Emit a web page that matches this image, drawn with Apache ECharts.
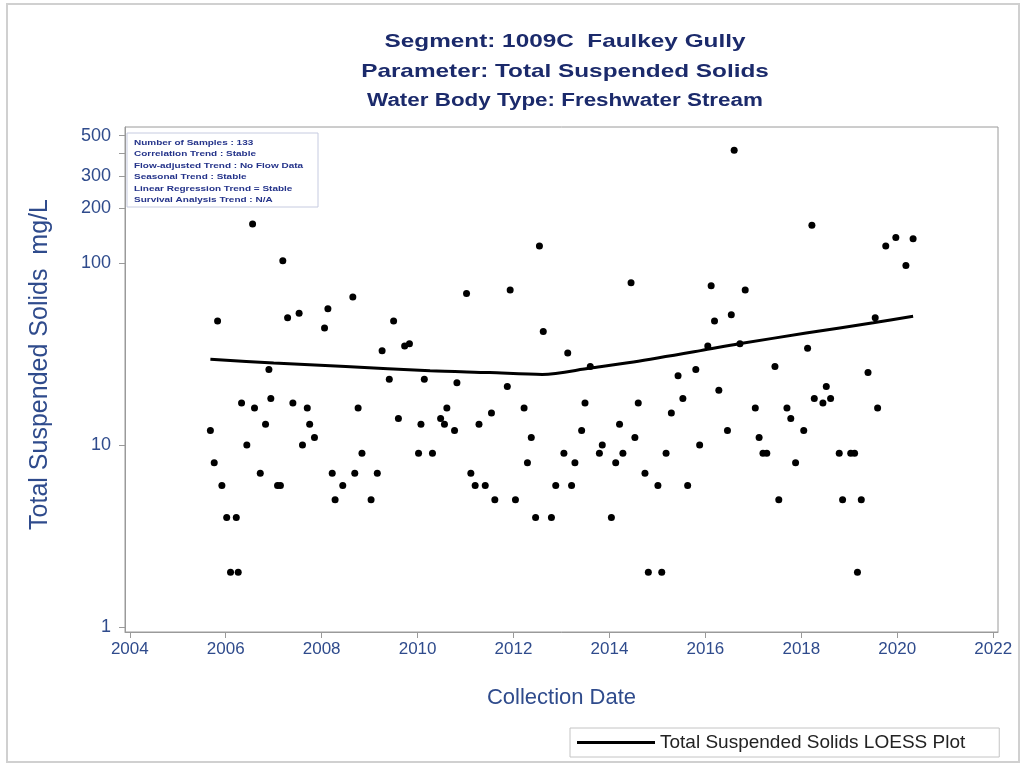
<!DOCTYPE html>
<html>
<head>
<meta charset="utf-8">
<script src="https://cdn.jsdelivr.net/npm/echarts@6/dist/echarts.min.js"></script>
<style>
  html, body { margin: 0; padding: 0; background: #fff; }
  #chart { width: 1026px; height: 767px; }
</style>
</head>
<body>
<div id="chart"></div>
<script>
// sample dates (decimal year) and TSS values, mg/L
var sampleDates = [
  2005.68, 2005.76, 2005.83, 2005.92, 2006.02, 2006.10, 2006.22, 2006.26, 2006.33, 2006.44,
  2006.56, 2006.60, 2006.72, 2006.83, 2006.90, 2006.94, 2007.08, 2007.14, 2007.19, 2007.29,
  2007.40, 2007.53, 2007.60, 2007.70, 2007.75, 2007.85, 2008.06, 2008.13, 2008.22, 2008.28,
  2008.44, 2008.65, 2008.69, 2008.76, 2008.84, 2009.03, 2009.16, 2009.26, 2009.41, 2009.50,
  2009.60, 2009.73, 2009.83, 2010.02, 2010.07, 2010.14, 2010.31, 2010.48, 2010.56, 2010.61,
  2010.77, 2010.82, 2011.02, 2011.11, 2011.20, 2011.28, 2011.41, 2011.54, 2011.61, 2011.87,
  2011.93, 2012.04, 2012.22, 2012.29, 2012.37, 2012.46, 2012.54, 2012.62, 2012.79, 2012.88,
  2013.05, 2013.13, 2013.21, 2013.28, 2013.42, 2013.49, 2013.60, 2013.79, 2013.85, 2014.04,
  2014.13, 2014.21, 2014.28, 2014.45, 2014.53, 2014.60, 2014.74, 2014.81, 2015.01, 2015.09,
  2015.18, 2015.29, 2015.43, 2015.53, 2015.63, 2015.80, 2015.88, 2016.05, 2016.12, 2016.19,
  2016.28, 2016.46, 2016.54, 2016.60, 2016.72, 2016.83, 2017.04, 2017.12, 2017.20, 2017.28,
  2017.45, 2017.53, 2017.70, 2017.78, 2017.88, 2018.05, 2018.13, 2018.22, 2018.27, 2018.45,
  2018.52, 2018.61, 2018.79, 2018.86, 2019.03, 2019.11, 2019.17, 2019.25, 2019.39, 2019.54,
  2019.59, 2019.76, 2019.97, 2020.18, 2020.33
];
var tssValues = [
  12, 8, 48, 6, 4, 2, 4, 2, 17, 10,
  164, 16, 7, 13, 26, 18, 6, 6, 103, 50,
  17, 53, 10, 16, 13, 11, 44, 56, 7, 5,
  6, 65, 7, 16, 9, 5, 7, 33, 23, 48,
  14, 35, 36, 9, 13, 23, 9, 14, 13, 16,
  12, 22, 68, 7, 6, 13, 6, 15, 5, 21,
  71, 5, 16, 8, 11, 4, 124, 42, 4, 6,
  9, 32, 6, 8, 12, 17, 27, 9, 10, 4,
  8, 13, 9, 78, 11, 17, 7, 2, 6, 2,
  9, 15, 24, 18, 6, 26, 10, 35, 75, 48,
  20, 12, 52, 416, 36, 71, 16, 11, 9, 9,
  27, 5, 16, 14, 8, 12, 34, 161, 18, 17,
  21, 18, 9, 5, 9, 9, 2, 5, 25, 50,
  16, 124, 138, 97, 136
];
// LOESS fit
var loessDates = [2005.68, 2007.0, 2008.5, 2010.26, 2011.5, 2012.6, 2013.6, 2014.5, 2015.9, 2016.7, 2018.1, 2019.5, 2020.33];
var loessValues = [29.6, 28.2, 27.0, 25.6, 25.0, 24.4, 26.5, 28.6, 33.0, 36.0, 41.2, 47.0, 51.0];

var yearTicks = [2004, 2006, 2008, 2010, 2012, 2014, 2016, 2018, 2020, 2022];
var yTickValues = [1, 10, 100, 200, 300, 400, 500];
var yLabelValues = [1, 10, 100, 200, 300, 500];

var titles = [
  'Segment: 1009C  Faulkey Gully',
  'Parameter: Total Suspended Solids',
  'Water Body Type: Freshwater Stream'
];
var infoLines = [
  'Number of Samples : 133',
  'Correlation Trend : Stable',
  'Flow-adjusted Trend : No Flow Data',
  'Seasonal Trend : Stable',
  'Linear Regression Trend = Stable',
  'Survival Analysis Trend : N/A'
];

var lg = function (v) { return Math.log10(v); };
var scatterData = sampleDates.map(function (d, i) { return [d, lg(tssValues[i])]; });
var loessData = loessDates.map(function (d, i) { return [d, lg(loessValues[i])]; });

var blue = '#2f4b8c';
var navy = '#1b2a6b';
var font = '"Liberation Sans", Arial, sans-serif';
var stretch = 1.28;   // the source picture is wider than it is tall

function titleText(str, y, size) {
  return {
    type: 'text', x: 565, y: y, scaleX: stretch, silent: true,
    style: { text: str, fontSize: size, fontWeight: 'bold', fill: navy, fontFamily: font,
      textAlign: 'center', textVerticalAlign: 'middle' }
  };
}

var chart = echarts.init(document.getElementById('chart'));
var option = {
  backgroundColor: '#fff',
  animation: false,
  textStyle: { fontFamily: font },
  grid: { left: 125, right: 28, top: 127, bottom: 135, show: true, borderColor: '#9a9a9a', borderWidth: 1 },
  legend: {
    data: [{ name: 'Total Suspended Solids LOESS Plot', icon: 'rect' }],
    left: 570, top: 728,
    itemWidth: 78, itemHeight: 3,
    padding: [5, 34, 5, 7],
    borderColor: '#c4c4c4', borderWidth: 1,
    textStyle: { fontSize: 19, color: '#222', fontFamily: font }
  },
  xAxis: {
    type: 'value',
    min: 2003.9, max: 2022.1,
    name: 'Collection Date',
    nameLocation: 'middle', nameGap: 55,
    nameTextStyle: { fontSize: 22, color: blue, fontFamily: font },
    axisLine: { onZero: false, lineStyle: { color: '#9a9a9a' } },
    axisTick: { show: true, length: 6, lineStyle: { color: '#9a9a9a' }, customValues: yearTicks },
    axisLabel: { fontSize: 17, color: blue, margin: 9, customValues: yearTicks,
      formatter: function (v) { return String(v); } },
    splitLine: { show: false }
  },
  yAxis: {
    type: 'value',
    min: -0.027, max: 2.747,
    name: 'Total Suspended Solids  mg/L',
    nameLocation: 'middle', nameGap: 72,
    nameTextStyle: { fontSize: 25, color: blue, fontFamily: font, padding: [0, 0, 0, 30] },
    axisLine: { show: true, onZero: false, lineStyle: { color: '#9a9a9a' } },
    axisTick: { show: true, length: 6, lineStyle: { color: '#9a9a9a' }, customValues: yTickValues.map(lg) },
    axisLabel: {
      fontSize: 18, color: blue, margin: 14,
      customValues: yLabelValues.map(lg),
      formatter: function (v) { return String(Math.round(Math.pow(10, v))); }
    },
    splitLine: { show: false }
  },
  series: [
    {
      name: 'Total Suspended Solids',
      type: 'scatter',
      data: scatterData,
      symbol: 'circle',
      symbolSize: 7,
      itemStyle: { color: '#000', opacity: 1 },
      z: 3
    },
    {
      name: 'Total Suspended Solids LOESS Plot',
      type: 'line',
      data: loessData,
      symbol: 'none',
      smooth: 0.3,
      lineStyle: { color: '#000', width: 3 },
      itemStyle: { color: '#000' },
      z: 2
    }
  ],
  graphic: [
    { type: 'rect', shape: { x: 7, y: 4, width: 1012, height: 758 }, silent: true,
      style: { fill: 'none', stroke: '#d0d0d0', lineWidth: 2 } },
    titleText(titles[0], 42, 19),
    titleText(titles[1], 72, 19),
    titleText(titles[2], 101, 17.5),
    { type: 'rect', shape: { x: 127, y: 133, width: 191, height: 74 }, silent: true, z: 10,
      style: { fill: '#fff', stroke: '#c6cbe0', lineWidth: 1 } },
    { type: 'text', x: 134, y: 137, scaleX: stretch, silent: true, z: 11,
      style: { text: infoLines.join('\n'), fontSize: 7.8, fontWeight: 'bold', lineHeight: 11.5,
        fill: '#24338a', fontFamily: font } }
  ]
};
chart.setOption(option);
</script>
</body>
</html>
